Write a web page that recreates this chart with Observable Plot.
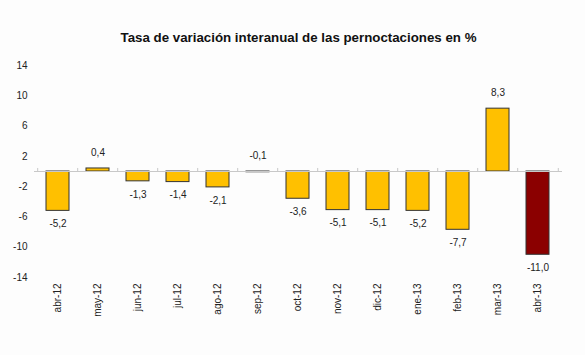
<!DOCTYPE html>
<html>
<head>
<meta charset="utf-8">
<script src="https://cdn.jsdelivr.net/npm/d3@7"></script>
<script src="https://cdn.jsdelivr.net/npm/@observablehq/plot@0.6"></script>
<style>
  html, body { margin: 0; padding: 0; background: #fdfdfd; }
  svg { font-family: "Liberation Sans", Arial, sans-serif; }
</style>
</head>
<body>
<div id="chart"></div>
<script>
const title = "Tasa de variación interanual de las pernoctaciones en %";
const months = ["abr-12","may-12","jun-12","jul-12","ago-12","sep-12","oct-12","nov-12","dic-12","ene-13","feb-13","mar-13","abr-13"];
const values = [-5.2, 0.4, -1.3, -1.4, -2.1, -0.1, -3.6, -5.1, -5.1, -5.2, -7.7, 8.3, -11.0];
const yTicks = [14, 10, 6, 2, -2, -6, -10, -14];
const highlight = "abr-13";

const data = months.map((m, i) => ({m, v: values[i]}));
const fmt = v => v.toFixed(1).replace(".", ",");
const step = (585 - 34 - 23) / months.length;

const chart = Plot.plot({
  width: 585,
  height: 355,
  marginLeft: 34,
  marginRight: 23,
  marginTop: 65,
  marginBottom: 78,
  style: {background: "#fdfdfd", fontFamily: "'Liberation Sans', Arial, sans-serif"},
  x: {domain: months, paddingInner: 0.42, paddingOuter: 0.21, label: null},
  y: {domain: [-14, 14], label: null},
  marks: [
    Plot.axisY({ticks: yTicks, tickSize: 0, tickPadding: 7, fontSize: 10, color: "#222", tickFormat: d => String(d)}),
    Plot.axisX({tickSize: 0, tickRotate: -90, tickPadding: 6, fontSize: 10, color: "#222"}),
    Plot.barY(data, {x: "m", y: "v", fill: d => d.m === highlight ? "#8b0000" : "#ffc000", stroke: "#333", strokeWidth: 1}),
    Plot.ruleY([0], {stroke: "#c8c8c8", strokeWidth: 1}),
    Plot.ruleX(months, {x: d => d, y1: 0, y2: 0.4, dx: -step / 2, stroke: "#c8c8c8"}),
    Plot.ruleX([months[months.length - 1]], {x: d => d, y1: 0, y2: 0.4, dx: step / 2, stroke: "#c8c8c8"}),
    Plot.text(data.filter(d => d.v > -1), {x: "m", y: d => Math.max(d.v, 0), text: d => fmt(d.v), dy: -16, fontSize: 10, fill: "#222"}),
    Plot.text(data.filter(d => d.v <= -1), {x: "m", y: "v", text: d => fmt(d.v), dy: 13, fontSize: 10, fill: "#222"}),
    Plot.text([title], {frameAnchor: "top", dy: -33, text: d => d, fontSize: 13.3, fontWeight: "bold", fill: "#111"})
  ]
});
document.getElementById("chart").appendChild(chart);
</script>
</body>
</html>
